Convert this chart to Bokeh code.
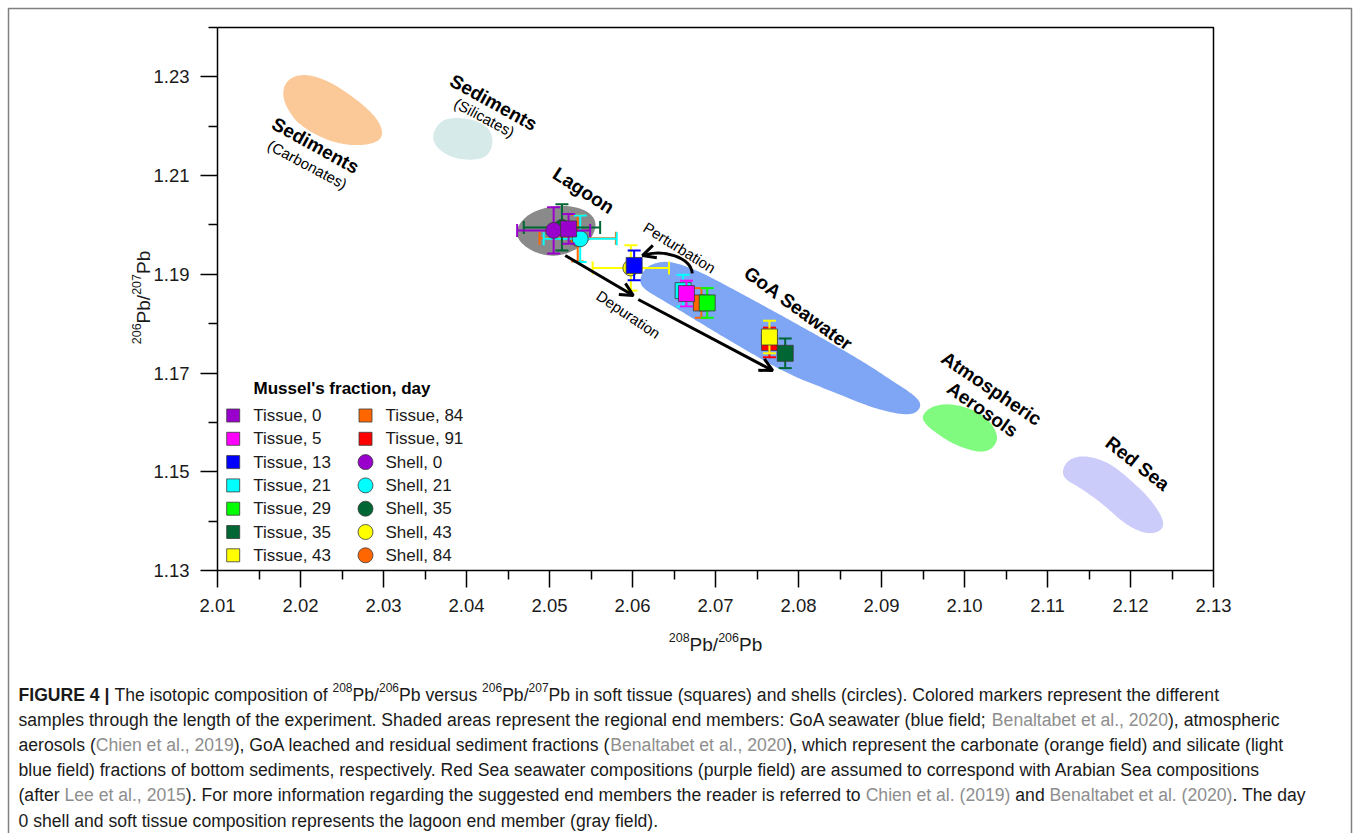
import math
from bokeh.plotting import figure
from bokeh.models import (Range1d, FixedTicker, PrintfTickFormatter, Label,
                          Arrow, OpenHead)
from bokeh.embed import file_html
from bokeh.resources import INLINE

# ---------------------------------------------------------------- data
# soft tissue samples (squares): day, 208Pb/206Pb, 206Pb/207Pb, 2-sigma errors
tissue_days = [0, 5, 13, 21, 29, 35, 43, 84, 91]
tissue_x = [2.0523, 2.0665, 2.0602, 2.0661, 2.0690, 2.0784, 2.0765, 2.0683, 2.0765]
tissue_y = [1.1992, 1.1861, 1.1918, 1.1867, 1.1842, 1.1740, 1.1773, 1.1842, 1.1762]
tissue_xerr = [0, 0, 0, 0, 0, 0, 0, 0, 0]
tissue_yerr = [0.0030, 0.0026, 0.0030, 0.0032, 0.0030, 0.0030, 0.0033, 0.0030, 0.0030]

# shell samples (circles)
shell_days = [0, 21, 35, 43, 84]
shell_x = [2.0505, 2.0537, 2.0515, 2.0598, 2.0534]
shell_y = [1.1989, 1.1972, 1.1995, 1.1913, 1.1973]
shell_xerr = [0.0044, 0.0044, 0.0046, 0.0046, 0.0046]
shell_yerr = [0.0047, 0.0047, 0.0047, 0.0046, 0.0047]

day_colors = {0: "#9900cc", 5: "#ff00ff", 13: "#0000ff", 21: "#00ffff",
              29: "#00ff00", 35: "#006633", 43: "#ffff00", 84: "#ff6600",
              91: "#ff0000"}

# end-member fields (outline vertices, 208Pb/206Pb vs 206Pb/207Pb)
carb_x = [2.0184, 2.0195, 2.0212, 2.0236, 2.0264, 2.0287, 2.0296,
          2.0294, 2.0278, 2.0254, 2.0228, 2.0200, 2.0186, 2.0181]
carb_y = [1.2285, 1.2299, 1.2301, 1.2287, 1.2256, 1.2222, 1.2195,
          1.2175, 1.2165, 1.2165, 1.2177, 1.2204, 1.2236, 1.2262]
sil_x = [2.0369, 2.0384, 2.0408, 2.0425, 2.0431, 2.0425, 2.0408, 2.0384, 2.0365, 2.0360]
sil_y = [1.2208, 1.2216, 1.2212, 1.2197, 1.2171, 1.2141, 1.2133, 1.2137, 1.2157, 1.2181]
lag_x = [2.0461, 2.0474, 2.0498, 2.0525, 2.0546, 2.0555, 2.0549, 2.0534, 2.0510, 2.0486, 2.0467]
lag_y = [1.1989, 1.2019, 1.2035, 1.2037, 1.2025, 1.2003, 1.1973, 1.1954, 1.1938, 1.1944, 1.1964]
goa_x = [2.0611, 2.0617, 2.0629, 2.0648, 2.0682, 2.0730, 2.0778, 2.0826, 2.0875, 2.0911, 2.0935,
         2.0945, 2.0939, 2.0923, 2.0887, 2.0839, 2.0790, 2.0742, 2.0694, 2.0658, 2.0634, 2.0618]
goa_y = [1.1883, 1.1908, 1.1920, 1.1924, 1.1904, 1.1861, 1.1817, 1.1772, 1.1725, 1.1685, 1.1659,
         1.1640, 1.1622, 1.1618, 1.1632, 1.1665, 1.1697, 1.1742, 1.1790, 1.1827, 1.1851, 1.1867]
aer_x = [2.0951, 2.0963, 2.0987, 2.1016, 2.1031, 2.1039, 2.1031, 2.1016, 2.0987, 2.0963, 2.0953]
aer_y = [1.1614, 1.1632, 1.1636, 1.1620, 1.1598, 1.1569, 1.1547, 1.1541, 1.1557, 1.1584, 1.1600]
red_x = [2.1124, 2.1143, 2.1172, 2.1200, 2.1224, 2.1239, 2.1234, 2.1216, 2.1192, 2.1167, 2.1140, 2.1119]
red_y = [1.1519, 1.1531, 1.1519, 1.1482, 1.1442, 1.1401, 1.1381, 1.1377, 1.1397, 1.1436, 1.1468, 1.1488]

# trend arrows
depuration_x0 = [2.0519, 2.0607]
depuration_y0 = [1.1938, 1.1849]
depuration_x1 = [2.0601, 2.0769]
depuration_y1 = [1.1857, 1.1705]
perturb_x0, perturb_y0 = 2.0672, 1.1902
perturb_cx0, perturb_cy0 = 2.0670, 1.1934
perturb_cx1, perturb_cy1 = 2.0638, 1.1952
perturb_x1, perturb_y1 = 2.0612, 1.1938

x_ticks = [2.01, 2.02, 2.03, 2.04, 2.05, 2.06, 2.07, 2.08, 2.09, 2.10, 2.11, 2.12, 2.13]
y_ticks = [1.13, 1.15, 1.17, 1.19, 1.21, 1.23]

# ---------------------------------------------------------------- layout helpers
W, H = 1358, 833
FL, FR, FT, FB = 217, 1213, 27, 570          # pixel box of the plotting area
X0, X1, Y0, Y1 = 2.01, 2.13, 1.13, 1.24      # data limits of that box


def dx(px):
    return X0 + (px - FL) * (X1 - X0) / (FR - FL)


def dy(py):
    return Y0 + (FB - py) * (Y1 - Y0) / (FB - FT)


def sx(n):
    return n * (X1 - X0) / (FR - FL)


def sy(n):
    return n * (Y1 - Y0) / (FB - FT)


# Arial / Liberation Sans advance widths (1/1000 em)
REG = {' ': 278, '!': 278, "'": 191, '(': 333, ')': 333, ',': 278, '-': 333, '.': 278,
       '/': 278, ':': 278, ';': 278, '|': 260,
       'A': 667, 'B': 667, 'C': 722, 'D': 722, 'E': 667, 'F': 611, 'G': 778, 'H': 722,
       'I': 278, 'J': 500, 'K': 667, 'L': 556, 'M': 833, 'N': 722, 'O': 778, 'P': 667,
       'Q': 778, 'R': 722, 'S': 667, 'T': 611, 'U': 722, 'V': 667, 'W': 944, 'X': 667,
       'Y': 667, 'Z': 611,
       'a': 556, 'b': 556, 'c': 500, 'd': 556, 'e': 556, 'f': 278, 'g': 556, 'h': 556,
       'i': 222, 'j': 222, 'k': 500, 'l': 222, 'm': 833, 'n': 556, 'o': 556, 'p': 556,
       'q': 556, 'r': 333, 's': 500, 't': 278, 'u': 556, 'v': 500, 'w': 722, 'x': 500,
       'y': 500, 'z': 500}
BOLD = {' ': 278, '|': 280, 'F': 611, 'I': 278, 'G': 778, 'U': 722, 'R': 722, 'E': 667}


def tw(s, size, bold=False):
    table = BOLD if bold else REG
    return sum(table.get(c, 556) for c in s) * size / 1000.0


def smooth(xs, ys, n=4, grow=1.05):
    mx, my = sum(xs) / len(xs), sum(ys) / len(ys)
    pts = [(mx + grow * (a - mx), my + grow * (b - my)) for a, b in zip(xs, ys)]
    for _ in range(n):
        new = []
        for i in range(len(pts)):
            a, b = pts[i], pts[(i + 1) % len(pts)]
            new.append((0.75 * a[0] + 0.25 * b[0], 0.75 * a[1] + 0.25 * b[1]))
            new.append((0.25 * a[0] + 0.75 * b[0], 0.25 * a[1] + 0.75 * b[1]))
        pts = new
    return [q[0] for q in pts], [q[1] for q in pts]


FONT = "Liberation Sans"
INK = "#1a1a1a"

# ---------------------------------------------------------------- figure
# the frame fills the whole page; the axes are pinned to the plotting box
p = figure(width=W, height=H, output_backend="svg", toolbar_location=None, title=None,
           x_range=Range1d(dx(0), dx(W)), y_range=Range1d(dy(H), dy(0)),
           min_border=0, min_border_left=0, min_border_right=0,
           min_border_top=0, min_border_bottom=0)
p.xgrid.visible = False
p.ygrid.visible = False
p.background_fill_color = "white"
p.border_fill_color = "white"
p.outline_line_color = None

p.xaxis.fixed_location = Y0
p.yaxis.fixed_location = X0
p.xaxis.bounds = (X0, X1)
p.yaxis.bounds = (Y0, Y1)
p.xaxis.ticker = FixedTicker(ticks=x_ticks,
                             minor_ticks=[t + 0.005 for t in x_ticks[:-1]])
p.yaxis.ticker = FixedTicker(ticks=y_ticks,
                             minor_ticks=[t + 0.01 for t in y_ticks])
p.xaxis.formatter = PrintfTickFormatter(format="%.2f")
p.yaxis.formatter = PrintfTickFormatter(format="%.2f")
for ax in (p.xaxis, p.yaxis):
    ax.axis_line_width = 1.5
    ax.axis_line_color = "black"
    ax.major_tick_line_width = 1.5
    ax.minor_tick_line_width = 1.5
    ax.major_tick_line_color = "black"
    ax.minor_tick_line_color = "black"
    ax.major_tick_in = 0
    ax.major_tick_out = 17
    ax.minor_tick_in = 0
    ax.minor_tick_out = 9
    ax.major_label_text_font = FONT
    ax.major_label_text_font_size = "18.5px"
    ax.major_label_text_color = INK
    ax.major_label_standoff = 11

# closing top and right sides of the plotting box
p.line([X0, X1, X1], [Y1, Y1, Y0], line_color="black", line_width=1.5)

# end-member fields
fields = [(carb_x, carb_y, "#fbc898", 1.05), (sil_x, sil_y, "#d6eaea", 1.05),
          (goa_x, goa_y, "#7ea6f4", 1.02), (aer_x, aer_y, "#80fb80", 1.05),
          (red_x, red_y, "#ccccfa", 1.04), (lag_x, lag_y, "#8a8a8a", 1.05)]
for fx, fy, col, grow in fields:
    sxs, sys_ = smooth(fx, fy, grow=grow)
    p.patch(sxs, sys_, fill_color=col, line_color=None)

# depuration arrows
for i in range(len(depuration_x0)):
    p.add_layout(Arrow(end=OpenHead(size=13, line_width=3, line_color="black"),
                       x_start=depuration_x0[i], y_start=depuration_y0[i],
                       x_end=depuration_x1[i], y_end=depuration_y1[i],
                       line_width=3, line_color="black"))

# perturbation curve with its head
p.bezier(x0=[perturb_x0], y0=[perturb_y0], x1=[perturb_x1], y1=[perturb_y1],
         cx0=[perturb_cx0], cy0=[perturb_cy0], cx1=[perturb_cx1], cy1=[perturb_cy1],
         line_color="black", line_width=3)
tdx, tdy = perturb_x1 - perturb_cx1, perturb_y1 - perturb_cy1
p.add_layout(Arrow(end=OpenHead(size=13, line_width=3, line_color="black"),
                   x_start=perturb_x1 - 0.25 * tdx, y_start=perturb_y1 - 0.25 * tdy,
                   x_end=perturb_x1, y_end=perturb_y1, line_alpha=0))

CAP = 6.5  # px half-width of error-bar caps


def draw_sample(x, y, xe, ye, color, marker):
    x0s, y0s, x1s, y1s = [], [], [], []
    if ye > 0:
        x0s += [x, x - sx(CAP), x - sx(CAP)]
        x1s += [x, x + sx(CAP), x + sx(CAP)]
        y0s += [y - ye, y - ye, y + ye]
        y1s += [y + ye, y - ye, y + ye]
    if xe > 0:
        x0s += [x - xe, x - xe, x + xe]
        x1s += [x + xe, x - xe, x + xe]
        y0s += [y, y - sy(CAP), y - sy(CAP)]
        y1s += [y, y + sy(CAP), y + sy(CAP)]
    if x0s:
        p.segment(x0=x0s, y0=y0s, x1=x1s, y1=y1s, line_color=color, line_width=2)
    p.scatter([x], [y], marker=marker, size=16, fill_color=color,
              line_color="#3a3a3a", line_width=0.8)


for d in [84, 21, 35, 0, 43]:
    i = shell_days.index(d)
    draw_sample(shell_x[i], shell_y[i], shell_xerr[i], shell_yerr[i], day_colors[d], "circle")
for d in [91, 84, 35, 21, 43, 29, 13, 5, 0]:
    i = tissue_days.index(d)
    draw_sample(tissue_x[i], tissue_y[i], tissue_xerr[i], tissue_yerr[i], day_colors[d], "square")

# field labels
field_labels = [("Sediments", True, 19, 315, 145, 29), ("(Carbonates)", False, 15, 307, 164, 28),
                ("Sediments", True, 19, 493, 102, 29), ("(Silicates)", False, 15, 484, 117, 28),
                ("Lagoon", True, 19, 583, 190, 33), ("Perturbation", False, 15, 679, 247, 32),
                ("Depuration", False, 15, 628, 314, 34), ("GoA Seawater", True, 19, 798, 308, 36),
                ("Atmospheric", True, 19, 991, 388, 34), ("Aerosols", True, 19, 982, 409, 35),
                ("Red Sea", True, 19, 1137, 463, 38)]
for txt, bold, size, cx, cy, ang in field_labels:
    p.add_layout(Label(x=dx(cx), y=dy(cy), text=txt, angle=-math.radians(ang),
                       text_align="center", text_baseline="middle", text_font=FONT,
                       text_font_style="bold" if bold else "normal",
                       text_font_size=f"{size}px", text_color="black"))

# legend
p.add_layout(Label(x=dx(253), y=dy(388), text="Mussel's fraction, day", text_font=FONT,
                   text_font_style="bold", text_font_size="17px", text_color="black",
                   text_baseline="middle"))
legend_entries = ([("Tissue", d, "square") for d in [0, 5, 13, 21, 29, 35, 43]] +
                  [("Tissue", d, "square") for d in [84, 91]] +
                  [("Shell", d, "circle") for d in shell_days])
for k, (kind, d, marker) in enumerate(legend_entries):
    col, row = divmod(k, 7)
    mx = 232.7 if col == 0 else 365
    tx = 252.7 if col == 0 else 385
    ry = 415 + 23.3 * row
    p.scatter([dx(mx)], [dy(ry)], marker=marker, size=13 if marker == "square" else 15,
              fill_color=day_colors[d], line_color="#3a3a3a", line_width=0.8)
    p.add_layout(Label(x=dx(tx), y=dy(ry), text=f"{kind}, {d}", text_font=FONT,
                       text_font_size="17px", text_color=INK, text_baseline="middle"))


# rich-text runs (normal, bold, gray, superscript) laid out with font metrics
def put_runs(runs, x_start, base, size, sup_size, sup_raise, vertical=False):
    pos = x_start
    for text, kind in runs:
        fs = sup_size if kind == "s" else size
        bold = kind == "b"
        lead = len(text) - len(text.lstrip(" "))
        start = pos + (-1 if vertical else 1) * tw(" " * lead, fs, bold)
        shown = text.strip(" ")
        b = base - sup_raise if kind == "s" else base
        if shown:
            if vertical:
                lx, ly, ang = dx(b), dy(start), math.pi / 2
            else:
                lx, ly, ang = dx(start), dy(b), 0
            p.add_layout(Label(x=lx, y=ly, text=shown, angle=ang, text_font=FONT,
                               text_font_style="bold" if bold else "normal",
                               text_font_size=f"{fs}px",
                               text_color="#8e8e8e" if kind == "g" else INK,
                               text_align="left", text_baseline="alphabetic"))
        w = tw(text, fs, bold)
        pos = pos - w if vertical else pos + w


def axis_runs(a, b):
    return [(a, "s"), ("Pb/", "n"), (b, "s"), ("Pb", "n")]


ax_w = 2 * tw("206", 12.5) + tw("Pb/", 19) + tw("Pb", 19)
put_runs(axis_runs("208", "206"), 715 - ax_w / 2, 644, 19, 12.5, 7)
put_runs(axis_runs("206", "207"), 297 + ax_w / 2, 143, 19, 12.5, 7, vertical=True)

caption_lines = [
    [("FIGURE 4 |", "b"), (" The isotopic composition of ", "n"), ("208", "s"), ("Pb/", "n"),
     ("206", "s"), ("Pb versus ", "n"), ("206", "s"), ("Pb/", "n"), ("207", "s"),
     ("Pb in soft tissue (squares) and shells (circles). Colored markers represent the different", "n")],
    [("samples through the length of the experiment. Shaded areas represent the regional end "
      "members: GoA seawater (blue field; ", "n"), ("Benaltabet et al., 2020", "g"),
     ("), atmospheric", "n")],
    [("aerosols (", "n"), ("Chien et al., 2019", "g"),
     ("), GoA leached and residual sediment fractions (", "n"), ("Benaltabet et al., 2020", "g"),
     ("), which represent the carbonate (orange field) and silicate (light", "n")],
    [("blue field) fractions of bottom sediments, respectively. Red Sea seawater compositions "
      "(purple field) are assumed to correspond with Arabian Sea compositions", "n")],
    [("(after ", "n"), ("Lee et al., 2015", "g"),
     ("). For more information regarding the suggested end members the reader is referred to ", "n"),
     ("Chien et al. (2019)", "g"), (" and ", "n"), ("Benaltabet et al. (2020)", "g"),
     (". The day", "n")],
    [("0 shell and soft tissue composition represents the lagoon end member (gray field).", "n")],
]
for li, runs in enumerate(caption_lines):
    put_runs(runs, 18, 694 + 25.2 * li, 17.6, 12, 7)

# page frame (its lower edge falls just below the page)
p.line([dx(8), dx(8), dx(1351), dx(1351)], [dy(836), dy(8), dy(8), dy(836)],
       line_color="#808080", line_width=1.5)

open("out.html", "w").write(file_html(p, INLINE))
